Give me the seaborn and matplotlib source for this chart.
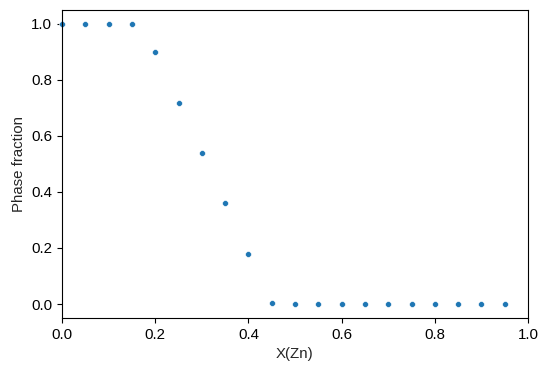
import matplotlib
matplotlib.use("Agg")
import matplotlib.pyplot as plt
import seaborn as sns
import pandas as pd

x_zn = [0.0, 0.05, 0.10, 0.15, 0.20, 0.25, 0.30, 0.35, 0.40, 0.45,
        0.50, 0.55, 0.60, 0.65, 0.70, 0.75, 0.80, 0.85, 0.90, 0.95]
phase_fraction = [1.0, 1.0, 1.0, 1.0, 0.90, 0.718, 0.54, 0.36, 0.18, 0.004,
                  0.0, 0.0, 0.0, 0.0, 0.0, 0.0, 0.0, 0.0, 0.0, 0.0]

sns.set_style("ticks")
plt.rcParams['font.family'] = ['Liberation Sans', 'DejaVu Sans']

df = pd.DataFrame({"X(Zn)": x_zn, "Phase fraction": phase_fraction})

fig = plt.figure(figsize=(5.47, 3.71), dpi=100)
ax = fig.add_axes([62/547, 1 - 318/371, (528-62)/547, (318-10)/371])
sns.scatterplot(data=df, x="X(Zn)", y="Phase fraction", ax=ax, s=18,
                color="#1f77b4", edgecolor="white", linewidth=0.4, clip_on=False)
ax.set_xlim(0, 1.0)
ax.set_ylim(-0.05, 1.05)
ax.set_xticks([0, 0.2, 0.4, 0.6, 0.8, 1.0])
ax.set_yticks([0, 0.2, 0.4, 0.6, 0.8, 1.0])
for s in ax.spines.values():
    s.set_visible(True)
    s.set_color("black")
    s.set_linewidth(0.8)
ax.tick_params(labelsize=10.8, colors="black", length=3.5, width=0.8)
ax.set_xlabel("X(Zn)", fontsize=10.8)
ax.set_ylabel("Phase fraction", fontsize=10.8)
fig.savefig("out.png", dpi=100)
